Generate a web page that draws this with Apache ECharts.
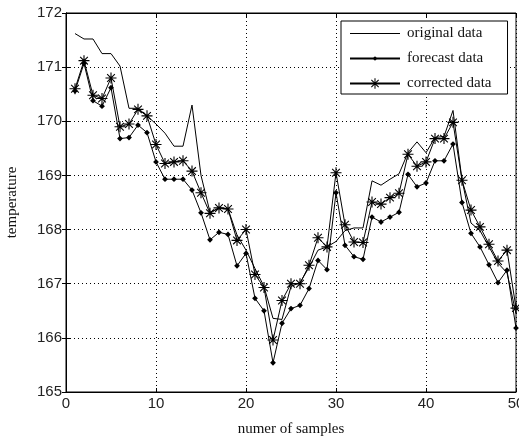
<!DOCTYPE html>
<html>
<head>
<meta charset="utf-8">
<script src="https://cdn.jsdelivr.net/npm/echarts@6/dist/echarts.min.js"></script>
<style>
  html, body { margin: 0; padding: 0; background: #fff; }
  #chart { width: 519px; height: 438px; }
</style>
</head>
<body>
<div id="chart"></div>
<script>
// sample numbers on the x axis
var samples = [1, 2, 3, 4, 5, 6, 7, 8, 9, 10, 11, 12, 13, 14, 15, 16, 17, 18, 19, 20,
  21, 22, 23, 24, 25, 26, 27, 28, 29, 30, 31, 32, 33, 34, 35, 36, 37, 38, 39, 40,
  41, 42, 43, 44, 45, 46, 47, 48, 49, 50];

var originalData = [171.62, 171.52, 171.52, 171.25, 171.25, 171.02, 170.24, 170.24, 170.10, 169.95,
  169.78, 169.54, 169.54, 170.30, 169.00, 168.32, 168.40, 168.38, 167.90, 167.62,
  167.28, 166.95, 166.36, 166.34, 166.95, 167.02, 167.30, 167.62, 167.68, 167.78,
  167.98, 168.03, 168.03, 168.90, 168.82, 168.93, 169.03, 169.42, 169.62, 169.42,
  169.70, 169.72, 170.20, 168.92, 168.12, 167.98, 167.68, 167.38, 167.20, 166.45];

var forecastData = [170.56, 171.07, 170.38, 170.28, 170.62, 169.68, 169.70, 169.93, 169.79, 169.25,
  168.93, 168.93, 168.93, 168.73, 168.31, 167.81, 167.95, 167.91, 167.33, 167.56,
  166.73, 166.50, 165.54, 166.27, 166.54, 166.60, 166.91, 167.43, 167.26, 168.68,
  167.71, 167.50, 167.45, 168.23, 168.14, 168.23, 168.32, 169.02, 168.79, 168.86,
  169.27, 169.27, 169.58, 168.50, 167.93, 167.68, 167.35, 167.02, 167.25, 166.18];

var correctedData = [170.60, 171.12, 170.48, 170.42, 170.80, 169.90, 169.95, 170.22, 170.10, 169.57,
  169.22, 169.25, 169.27, 169.08, 168.68, 168.30, 168.40, 168.38, 167.80, 168.00,
  167.17, 166.93, 165.96, 166.69, 167.00, 167.00, 167.34, 167.85, 167.68, 169.05,
  168.09, 167.77, 167.76, 168.51, 168.47, 168.59, 168.67, 169.39, 169.17, 169.25,
  169.68, 169.68, 169.98, 168.91, 168.36, 168.05, 167.73, 167.42, 167.62, 166.55];

var seriesNames = ['original data', 'forecast data', 'corrected data'];
var xTicks = [0, 10, 20, 30, 40, 50];
var yTicks = [165, 166, 167, 168, 169, 170, 171, 172];

function pairs(vals) {
  return samples.map(function (s, i) { return [s, vals[i]]; });
}

// small diamond with tiny specks so the shape stays small inside its box
var dotSymbol = 'path://M0,-4L4,0L0,4L-4,0Z M-9,-9L-8.9,-9L-9,-8.9Z M9,9L8.9,9L9,8.9Z';
// asterisk marker (plus + cross)
var starSymbol = 'path://M-1,-10L1,-10L1,10L-1,10Z M-10,-1L10,-1L10,1L-10,1Z ' +
  'M-6.3,-7.7L7.7,6.3L6.3,7.7L-7.7,-6.3Z M-7.7,6.3L6.3,-7.7L7.7,-6.3L-6.3,7.7Z';
// plain line for the legend of the unmarked series
var plainLineIcon = 'path://M0,6L50,6L50,7L0,7Z M0,0L0.01,0L0,0.01Z M50,13L49.99,13L50,12.99Z';

var chart = echarts.init(document.getElementById('chart'));

var labelFont = { fontFamily: 'Liberation Sans', fontSize: 15, color: '#222' };
var dotted = { color: '#000', width: 1, type: [1, 3] };

chart.setOption({
  animation: false,
  backgroundColor: '#fff',
  grid: {
    left: 66, right: 3, top: 13, bottom: 46,
    outerBoundsMode: 'none',
    containLabel: false,
    show: true, borderColor: '#000', borderWidth: 1, backgroundColor: 'transparent'
  },
  legend: {
    data: [
      { name: seriesNames[0], icon: plainLineIcon },
      { name: seriesNames[1] },
      { name: seriesNames[2] }
    ],
    orient: 'vertical',
    left: 341, top: 21,
    padding: [5, 16, 3, 8],
    itemWidth: 50, itemHeight: 13, itemGap: 10,
    backgroundColor: '#fff',
    borderColor: '#000', borderWidth: 1,
    textStyle: { fontFamily: 'Liberation Serif', fontSize: 15, color: '#111', padding: [0, 0, 0, 2] }
  },
  xAxis: [{
    type: 'value', min: xTicks[0], max: xTicks[xTicks.length - 1], interval: 10,
    name: 'numer of samples', nameLocation: 'middle', nameGap: 30,
    nameTextStyle: { fontFamily: 'Liberation Serif', fontSize: 15, color: '#111' },
    axisLine: { lineStyle: { color: '#000' } },
    axisTick: { inside: true, length: 4, lineStyle: { color: '#000' } },
    axisLabel: Object.assign({ margin: 4 }, labelFont),
    splitLine: { show: true, lineStyle: dotted }
  }, {
    type: 'value', position: 'top', min: xTicks[0], max: xTicks[xTicks.length - 1], interval: 10,
    axisLine: { lineStyle: { color: '#000' } },
    axisTick: { inside: true, length: 4, lineStyle: { color: '#000' } },
    axisLabel: { show: false }, splitLine: { show: false }
  }],
  yAxis: [{
    type: 'value', min: yTicks[0], max: yTicks[yTicks.length - 1], interval: 1,
    name: 'temperature', nameLocation: 'middle', nameGap: 46, nameRotate: 90,
    nameTextStyle: { fontFamily: 'Liberation Serif', fontSize: 15, color: '#111' },
    axisLine: { show: true, lineStyle: { color: '#000' } },
    axisTick: { show: true, inside: true, length: 4, lineStyle: { color: '#000' } },
    axisLabel: Object.assign({ margin: 4 }, labelFont),
    splitLine: { show: true, lineStyle: dotted }
  }, {
    type: 'value', position: 'right', min: yTicks[0], max: yTicks[yTicks.length - 1], interval: 1,
    axisLine: { show: true, lineStyle: { color: '#000' } },
    axisTick: { show: true, inside: true, length: 4, lineStyle: { color: '#000' } },
    axisLabel: { show: false }, splitLine: { show: false }
  }],
  series: [{
    name: seriesNames[0], type: 'line', data: pairs(originalData),
    symbol: 'none', color: '#000',
    lineStyle: { color: '#000', width: 1 }
  }, {
    name: seriesNames[1], type: 'line', data: pairs(forecastData),
    symbol: dotSymbol, symbolSize: 13, showAllSymbol: true, color: '#000',
    itemStyle: { color: '#000' },
    lineStyle: { color: '#000', width: 1 }
  }, {
    name: seriesNames[2], type: 'line', data: pairs(correctedData),
    symbol: starSymbol, symbolSize: 11, showAllSymbol: true, color: '#000',
    itemStyle: { color: '#000' },
    lineStyle: { color: '#000', width: 1 }
  }]
});
</script>
</body>
</html>
